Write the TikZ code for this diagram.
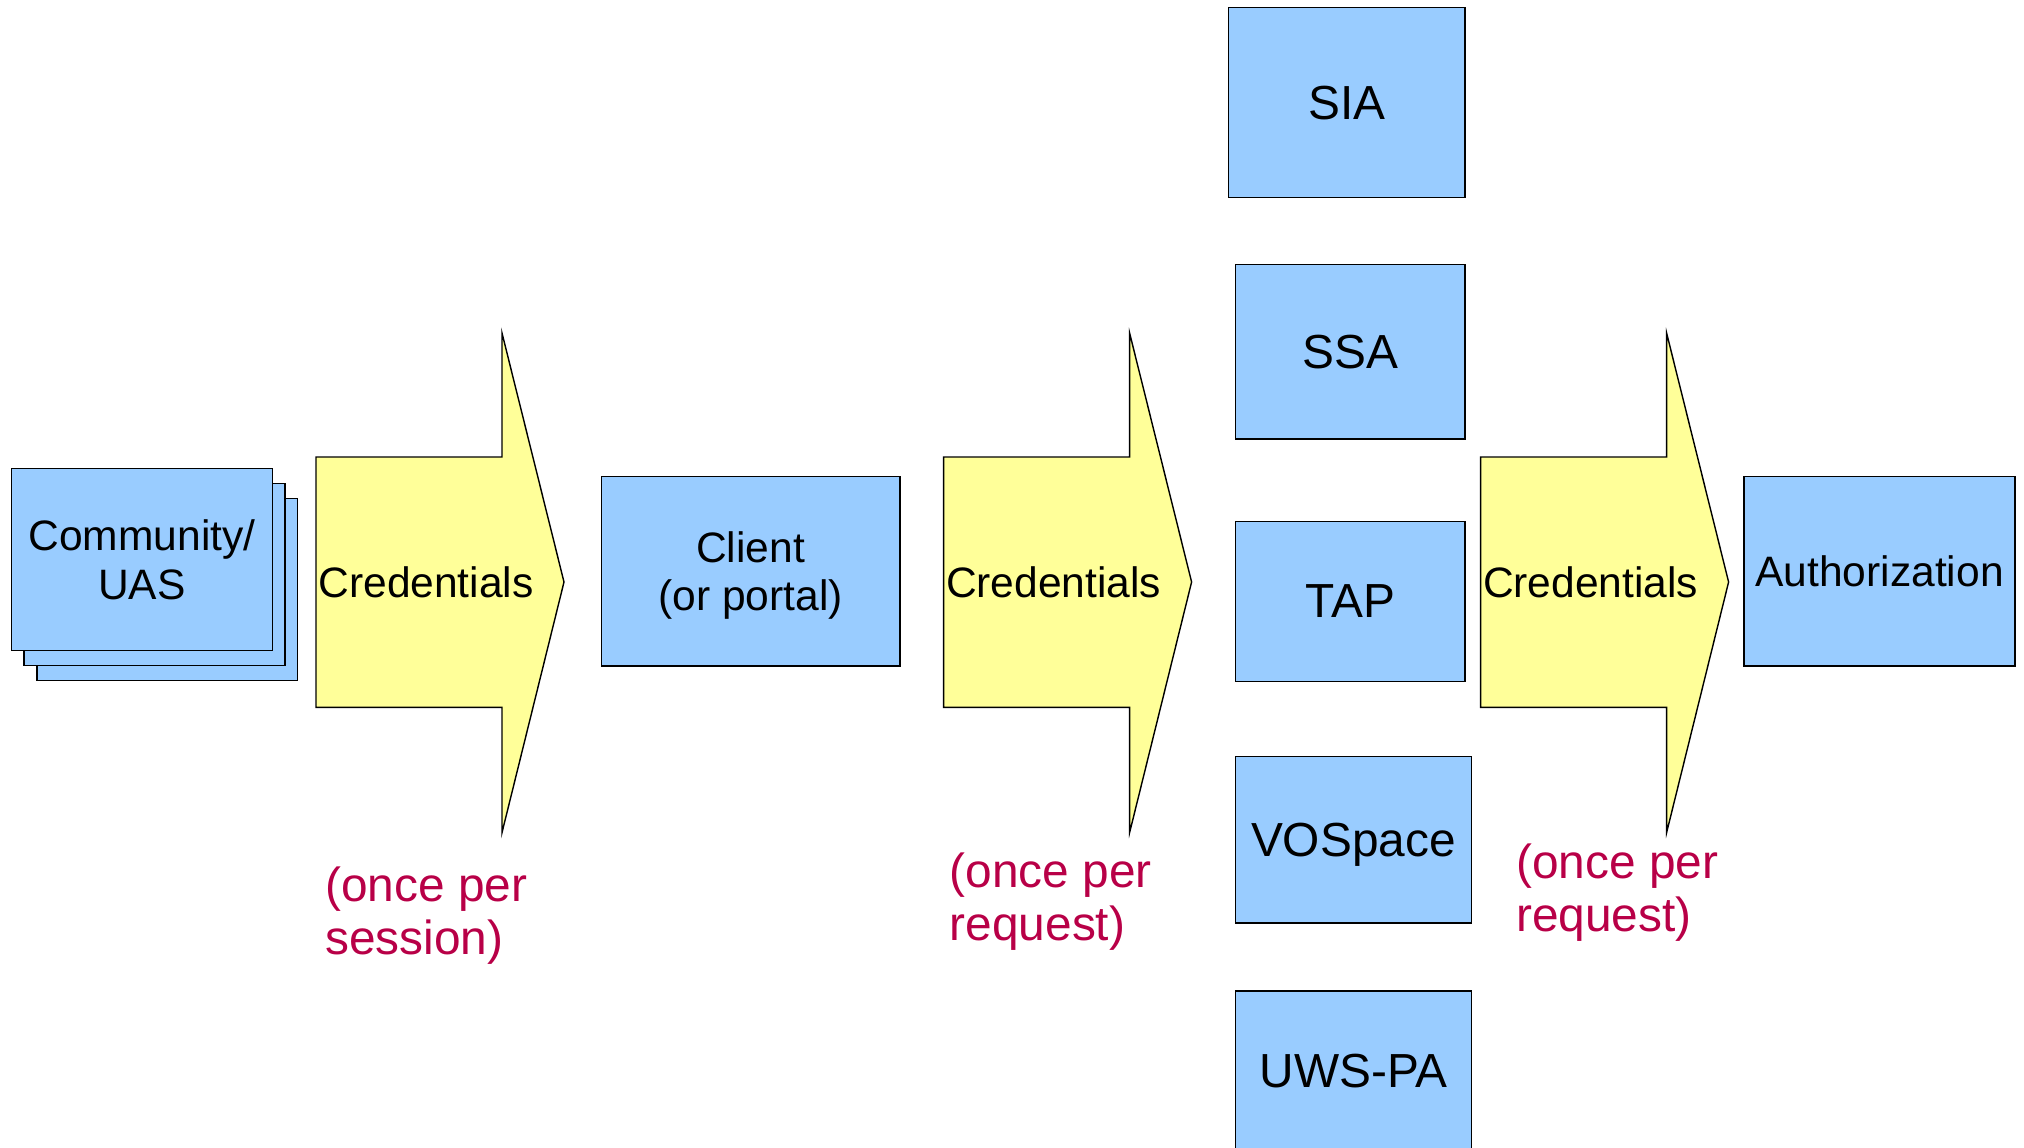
\documentclass[tikz,border=0pt]{standalone}
\usepackage{fontspec}
\setmainfont{Liberation Sans}
\definecolor{boxblue}{HTML}{99CCFF}
\definecolor{credyellow}{HTML}{FFFF99}
\definecolor{oncered}{RGB}{184,0,71}
\tikzset{
  svc/.style={draw, fill=boxblue, inner sep=0pt, text depth=0pt, align=center, font=\fontsize{13.6}{16}\selectfont},
  agent/.style={svc, font=\fontsize{12.1}{13.8}\selectfont},
  credtext/.style={anchor=west, inner sep=0.5pt, font=\fontsize{12.1}{13.8}\selectfont},
  oncenote/.style={anchor=north west, inner sep=0pt, align=left, text=oncered, font=\fontsize{13.6}{15.1}\selectfont}
}
\begin{document}
\begin{tikzpicture}[x=0.01cm, y=-0.01cm]
  \useasboundingbox (0,0) rectangle (2024,1147);

  % Community stack
  \foreach \d in {2,1}
    \draw[fill=boxblue] (11.6+12.6*\d,468.6+15*\d) rectangle +(260.8,182);
  \node[agent, minimum width=2.608cm, minimum height=1.82cm] (uas) at (142,559.6) {Community/\\UAS};

  % Client
  \node[agent, minimum width=2.982cm, minimum height=1.897cm] (client) at (750.6,571.2) {Client\\(or portal)};

  % Services
  \node[svc, minimum width=2.362cm, minimum height=1.898cm] (sia) at (1346.9,102.6) {SIA};
  \node[svc, minimum width=2.297cm, minimum height=1.743cm] (ssa) at (1350.2,351.8) {SSA};
  \node[svc, minimum width=2.297cm, minimum height=1.6cm] (tap) at (1350.2,601.5) {TAP};
  \node[svc, minimum width=2.362cm, minimum height=1.666cm] (vospace) at (1353.4,839.7) {VOSpace};
  \node[svc, minimum width=2.362cm, minimum height=1.6cm] (uwspa) at (1353.4,1071) {UWS-PA};

  % Authorization
  \node[agent, minimum width=2.711cm, minimum height=1.897cm] (authz) at (1879.5,571.2) {Authorization};

  % Credentials
  \foreach \xl/\nm in {316/credA,943.6/credB,1480.6/credC} {
    \draw[fill=credyellow] (\xl,457) -- ++(186,0) -- ++(0,-124) -- (\xl+248,582)
      -- (\xl+186,832.6) -- ++(0,-125.2) -- (\xl,707.4) -- cycle;
    \node[credtext] (\nm) at (\xl,582) {Credentials};
  }

  % Notes
  \node[oncenote] (onceA) at (324.5,866) {(once per\\session)};
  \node[oncenote] (onceB) at (949,852) {(once per\\request)};
  \node[oncenote] (onceC) at (1515.5,843) {(once per\\request)};
\end{tikzpicture}
\end{document}
